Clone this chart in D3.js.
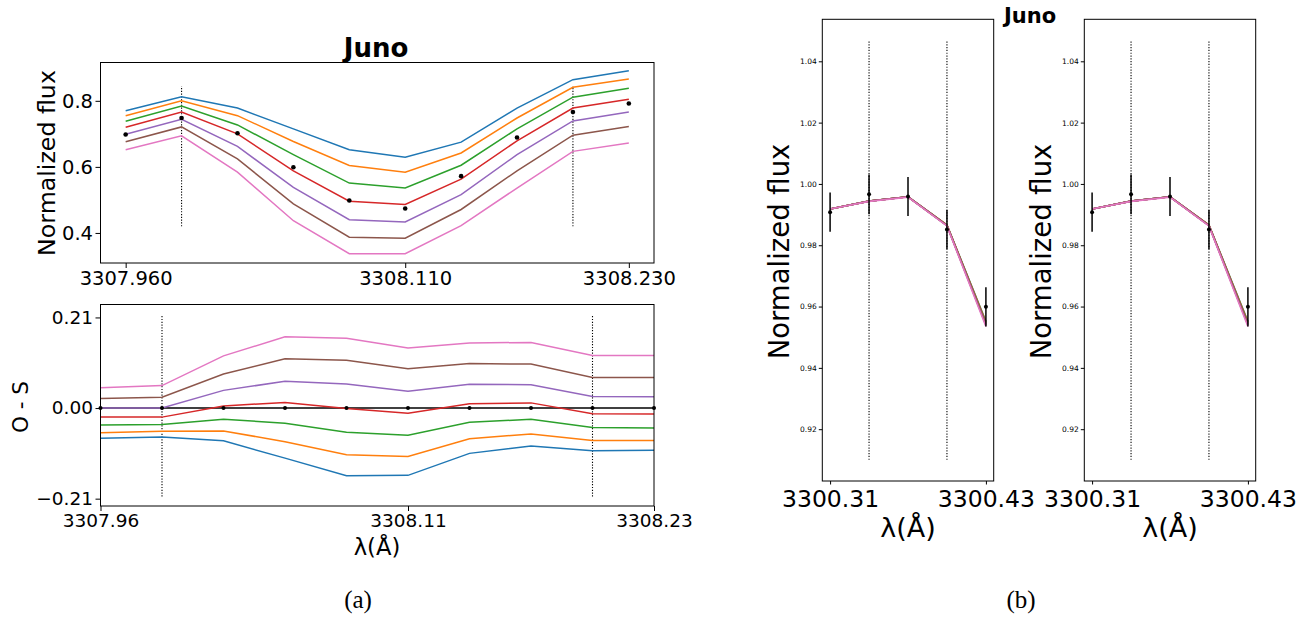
<!DOCTYPE html>
<html><head><meta charset="utf-8">
<script src="https://cdn.jsdelivr.net/npm/d3@7"></script>
<style>
body{margin:0;background:#fff}
svg{display:block}
text{font-family:"DejaVu Sans",sans-serif;fill:#000}
</style>
</head><body>
<svg id="chart" width="1316" height="622"></svg>
<script>
// ---------------- data: panel (a) ----------------
const wavelengthsA = [3307.96,3307.99,3308.02,3308.05,3308.08,3308.11,3308.14,3308.17,3308.20,3308.23];
const observedA    = [0.698,0.748,0.702,0.599,0.498,0.474,0.572,0.689,0.766,0.792];
const synBlue   = [0.770,0.812,0.778,0.715,0.652,0.629,0.675,0.778,0.864,0.891];
const synOrange = [0.755,0.800,0.755,0.677,0.604,0.584,0.642,0.748,0.841,0.866];
const synGreen  = [0.738,0.784,0.727,0.637,0.551,0.536,0.605,0.715,0.811,0.838];
const synRed    = [0.720,0.766,0.700,0.588,0.496,0.486,0.563,0.679,0.778,0.805];
const synPurple = [0.699,0.744,0.662,0.538,0.440,0.433,0.516,0.637,0.739,0.766];
const synBrown  = [0.676,0.721,0.624,0.488,0.387,0.384,0.471,0.588,0.696,0.722];
const synPink   = [0.652,0.694,0.584,0.437,0.337,0.337,0.422,0.536,0.647,0.672];
// residuals O - S
const resBlue   = [-0.070,-0.067,-0.076,-0.116,-0.157,-0.156,-0.105,-0.088,-0.099,-0.098];
const resOrange = [-0.057,-0.054,-0.053,-0.078,-0.108,-0.112,-0.071,-0.060,-0.075,-0.075];
const resGreen  = [-0.039,-0.038,-0.026,-0.035,-0.056,-0.063,-0.033,-0.026,-0.045,-0.046];
const resRed    = [-0.021,-0.021,0.005,0.013,-0.001,-0.012,0.010,0.012,-0.013,-0.014];
const resPurple = [0.000,0.000,0.041,0.062,0.056,0.039,0.055,0.054,0.027,0.026];
const resBrown  = [0.022,0.025,0.079,0.114,0.111,0.091,0.103,0.102,0.071,0.071];
const resPink   = [0.047,0.052,0.121,0.165,0.162,0.139,0.151,0.152,0.122,0.122];
const resObserved = [0,0,0,0,0,0,0,0,0,0];
const markedLinesA = [3307.99, 3308.20];
const fluxTicksA = [0.4, 0.6, 0.8];
const waveTicksA = [3307.96, 3308.11, 3308.23];
const resTicks   = [-0.21, 0.00, 0.21];

// ---------------- data: panel (b) ----------------
const wavelengthsB = [3300.31,3300.34,3300.37,3300.40,3300.43];
const observedB = [0.9908,0.9966,0.9959,0.9851,0.9599];
const errorB    = [0.0064,0.0065,0.0064,0.0064,0.0064];
const synBBlue   = [0.9918,0.9944,0.9958,0.9866,0.9552];
const synBOrange = [0.9918,0.9944,0.9958,0.9866,0.9550];
const synBGreen  = [0.9918,0.9944,0.9958,0.9865,0.9548];
const synBRed    = [0.9918,0.9944,0.9958,0.9865,0.9545];
const synBPurple = [0.9918,0.9944,0.9958,0.9864,0.9542];
const synBBrown  = [0.9918,0.9944,0.9958,0.9864,0.9540];
const synBPink   = [0.9918,0.9943,0.9957,0.9863,0.9535];
const markedLinesB = [3300.34, 3300.40];
const fluxTicksB = [0.92,0.94,0.96,0.98,1.00,1.02,1.04];
const waveTicksB = [3300.31, 3300.43];

const colors = ["#1f77b4","#ff7f0e","#2ca02c","#d62728","#9467bd","#8c564b","#e377c2"];
const seriesA = [synBlue,synOrange,synGreen,synRed,synPurple,synBrown,synPink];
const seriesR = [resBlue,resOrange,resGreen,resRed,resPurple,resBrown,resPink];
const seriesB = [synBBlue,synBOrange,synBGreen,synBRed,synBPurple,synBBrown,synBPink];

const svg = d3.select("#chart");
svg.append("rect").attr("width",1316).attr("height",622).attr("fill","#fff");

function styleAxis(g, fs){
  g.select(".domain").remove();
  g.selectAll(".tick line").attr("stroke","#000").attr("stroke-width",1);
  g.selectAll(".tick text").attr("font-size",fs).attr("fill","#000")
    .style("font-family","'DejaVu Sans',sans-serif");
}
function frame(x0,y0,x1,y1){
  svg.append("rect").attr("x",x0).attr("y",y0).attr("width",x1-x0).attr("height",y1-y0)
    .attr("fill","none").attr("stroke","#000").attr("stroke-width",1);
}
function vlines(g, xs, x, y, ya, yb){
  xs.forEach(v=>{
    g.append("line").attr("x1",x(v)).attr("x2",x(v)).attr("y1",y(ya)).attr("y2",y(yb))
      .attr("stroke","#000").attr("stroke-width",1.1).attr("stroke-dasharray","1.2,1.6");
  });
}

// ---------- Panel (a) top ----------
const L = 100.5, R = 654;
const padA = 0.05*(wavelengthsA[9]-wavelengthsA[0]);
const xA = d3.scaleLinear().domain([wavelengthsA[0]-padA, wavelengthsA[9]+padA]).range([L,R]);
const yA = d3.scaleLinear().domain([0.309,0.916]).range([263,62.5]);
const gA = svg.append("g");
const lineA = d3.line().x((d,i)=>xA(wavelengthsA[i])).y(d=>yA(d));
vlines(gA, markedLinesA, xA, yA, 0.42, 0.845);
seriesA.forEach((s,k)=>{
  gA.append("path").attr("d",lineA(s)).attr("fill","none").attr("stroke",colors[k]).attr("stroke-width",1.5);
});
gA.selectAll("circle.obs").data(observedA).join("circle").attr("class","obs")
  .attr("cx",(d,i)=>xA(wavelengthsA[i])).attr("cy",d=>yA(d)).attr("r",2.3).attr("fill","#000");
frame(L,62.5,R,263);
svg.append("g").attr("transform",`translate(${L},0)`)
  .call(d3.axisLeft(yA).tickValues(fluxTicksA).tickFormat(d3.format(".1f")).tickSize(5).tickPadding(2.5))
  .call(g=>styleAxis(g,19.5));
svg.append("g").attr("transform",`translate(0,263)`)
  .call(d3.axisBottom(xA).tickValues(waveTicksA).tickFormat(d3.format(".3f")).tickSize(5).tickPadding(3))
  .call(g=>styleAxis(g,19.5));
svg.append("text").attr("x",376).attr("y",56.5).attr("text-anchor","middle")
  .attr("font-size",26).attr("font-weight","bold").text("Juno");
svg.append("text").attr("transform","translate(46,163) rotate(-90)").attr("text-anchor","middle")
  .attr("dy","0.38em").attr("font-size",23.7).text("Normalized flux");

// ---------- Panel (a) bottom ----------
const xR = d3.scaleLinear().domain([wavelengthsA[0], wavelengthsA[9]]).range([L,R]);
const yR = d3.scaleLinear().domain([-0.227,0.240]).range([506,304.5]);
const gR = svg.append("g");
const lineR = d3.line().x((d,i)=>xR(wavelengthsA[i])).y(d=>yR(d));
vlines(gR, markedLinesA, xR, yR, -0.205, 0.217);
gR.append("path").attr("d",lineR(resObserved)).attr("fill","none").attr("stroke","#000").attr("stroke-width",1.5);
seriesR.forEach((s,k)=>{
  gR.append("path").attr("d",lineR(s)).attr("fill","none").attr("stroke",colors[k]).attr("stroke-width",1.5);
});
gR.selectAll("circle.obs").data(resObserved).join("circle").attr("class","obs")
  .attr("cx",(d,i)=>xR(wavelengthsA[i])).attr("cy",d=>yR(d)).attr("r",2).attr("fill","#000");
frame(L,304.5,R,506);
svg.append("g").attr("transform",`translate(${L},0)`)
  .call(d3.axisLeft(yR).tickValues(resTicks).tickFormat(d3.format(".2f")).tickSize(5).tickPadding(2.5))
  .call(g=>styleAxis(g,18.5));
svg.append("g").attr("transform",`translate(0,506)`)
  .call(d3.axisBottom(xR).tickValues(waveTicksA).tickFormat(d3.format(".2f")).tickSize(5).tickPadding(2.5))
  .call(g=>styleAxis(g,18.5));
svg.append("text").attr("transform","translate(20,407) rotate(-90)").attr("text-anchor","middle")
  .attr("dy","0.36em").attr("font-size",21.5).text("O - S");
svg.append("text").attr("x",377).attr("y",555).attr("text-anchor","middle")
  .attr("font-size",22.7).text("λ(Å)");
svg.append("text").attr("x",358).attr("y",608).attr("text-anchor","middle")
  .style("font-family","'Liberation Serif','DejaVu Serif',serif").attr("font-size",25).text("(a)");

// ---------- Panel (b): two identical panels ----------
const padB = 0.05*(wavelengthsB[4]-wavelengthsB[0]);
const yB = d3.scaleLinear().domain([0.9031,1.0537]).range([481,19.3]);
[822.3, 1084.3].forEach(left=>{
  const right = left + 171.4;
  const xB = d3.scaleLinear().domain([wavelengthsB[0]-padB, wavelengthsB[4]+padB]).range([left,right]);
  const g = svg.append("g");
  vlines(g, markedLinesB, xB, yB, 0.91, 1.047);
  const lineB = d3.line().x((d,i)=>xB(wavelengthsB[i])).y(d=>yB(d));
  seriesB.forEach((s,k)=>{
    g.append("path").attr("d",lineB(s)).attr("fill","none").attr("stroke",colors[k]).attr("stroke-width",1.6);
  });
  g.selectAll("line.err").data(observedB).join("line").attr("class","err")
    .attr("x1",(d,i)=>xB(wavelengthsB[i])).attr("x2",(d,i)=>xB(wavelengthsB[i]))
    .attr("y1",(d,i)=>yB(d-errorB[i])).attr("y2",(d,i)=>yB(d+errorB[i]))
    .attr("stroke","#000").attr("stroke-width",1.5);
  g.selectAll("circle.obs").data(observedB).join("circle").attr("class","obs")
    .attr("cx",(d,i)=>xB(wavelengthsB[i])).attr("cy",d=>yB(d)).attr("r",2).attr("fill","#000");
  frame(left,19.3,right,481);
  svg.append("g").attr("transform",`translate(${left},0)`)
    .call(d3.axisLeft(yB).tickValues(fluxTicksB).tickFormat(d3.format(".2f")).tickSize(3.5).tickPadding(2))
    .call(a=>styleAxis(a,7.5));
  svg.append("g").attr("transform",`translate(0,481)`)
    .call(d3.axisBottom(xB).tickValues(waveTicksB).tickFormat(d3.format(".2f")).tickSize(3.5).tickPadding(5.5))
    .call(a=>styleAxis(a,23.5));
  svg.append("text").attr("transform",`translate(${left-44},251.5) rotate(-90)`).attr("text-anchor","middle")
    .attr("dy","0.38em").attr("font-size",27.5).text("Normalized flux");
  svg.append("text").attr("x",(left+right)/2).attr("y",537).attr("text-anchor","middle")
    .attr("font-size",27).text("λ(Å)");
});
svg.append("text").attr("x",1030).attr("y",22.5).attr("text-anchor","middle")
  .attr("font-size",21).attr("font-weight","bold").text("Juno");
svg.append("text").attr("x",1021).attr("y",608).attr("text-anchor","middle")
  .style("font-family","'Liberation Serif','DejaVu Serif',serif").attr("font-size",25).text("(b)");
</script>
</body></html>
